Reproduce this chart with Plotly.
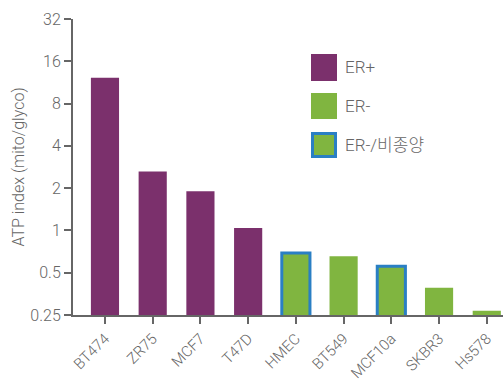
import plotly.graph_objects as go
import math

# Cell lines and their ATP index (mito/glyco)
cell_lines = ["BT474", "ZR75", "MCF7", "T47D", "HMEC", "BT549", "MCF10a", "SKBR3", "Hs578"]
atp_index = [12.2, 2.63, 1.9, 1.04, 0.69, 0.655, 0.555, 0.39, 0.268]
groups = ["ER+", "ER+", "ER+", "ER+", "ER-/비종양", "ER-", "ER-/비종양", "ER-", "ER-"]

y_tick_vals = [0.25, 0.5, 1, 2, 4, 8, 16, 32]
y_tick_text = ["0.25", "0.5", "1", "2", "4", "8", "16", "32"]

PURPLE = "#7B306C"
GREEN = "#80B540"
BLUE = "#2A7FC4"
TEXT = "#666666"
AXIS = "#666666"
FONT = "Roboto, Noto Sans CJK KR, sans-serif"
W_LIGHT = 300

fill = [PURPLE if g == "ER+" else GREEN for g in groups]
edge_color = [BLUE if g == "ER-/비종양" else "rgba(0,0,0,0)" for g in groups]
edge_width = [3 if g == "ER-/비종양" else 0 for g in groups]

fig = go.Figure(
    go.Bar(
        x=cell_lines,
        y=atp_index,
        marker=dict(color=fill, line=dict(color=edge_color, width=edge_width)),
        showlegend=False,
    )
)

# plot area in pixels (for placing the legend)
W, H = 503, 383
L, R, T, B = 73, 0, 19, 68
pw, ph = W - L - R, H - T - B


def px_x(x):
    return (x - L) / pw


def px_y(y):
    return (H - B - y) / ph


legend_items = [
    ("ER+", PURPLE, None, 54, 81),
    ("ER-", GREEN, None, 93, 119),
    ("ER-/비종양", GREEN, BLUE, 132, 158),
]
for label, color, border, y0, y1 in legend_items:
    fig.add_shape(
        type="rect", xref="paper", yref="paper",
        x0=px_x(311 if border is None else 312.5), x1=px_x(337 if border is None else 335.5),
        y0=px_y(y1 if border is None else y1 - 1.5), y1=px_y(y0 if border is None else y0 + 1.5),
        fillcolor=color,
        line=dict(color=border if border else color, width=3 if border else 0),
    )
    fig.add_annotation(
        xref="paper", yref="paper", x=px_x(343), y=px_y((y0 + y1) / 2),
        text=label, showarrow=False, xanchor="left", yanchor="middle",
        font=dict(family=FONT, size=17, color=TEXT, weight=W_LIGHT),
    )

fig.update_layout(
    width=W, height=H,
    margin=dict(l=L, r=R, t=T, b=B, pad=0),
    paper_bgcolor="white", plot_bgcolor="white",
    bargap=0.41,
    font=dict(family=FONT, size=16, color=TEXT, weight=W_LIGHT),
    xaxis=dict(
        range=[-0.67, 8.34], automargin=False,
        showline=True, linecolor=AXIS, linewidth=2,
        ticks="outside", ticklen=7, tickwidth=1.5, tickcolor=AXIS,
        tickangle=-45, showgrid=False, zeroline=False,
        tickfont=dict(family=FONT, size=15, color=TEXT, weight=W_LIGHT),
    ),
    yaxis=dict(
        type="log", automargin=False,
        range=[math.log10(0.25), math.log10(32)],
        tickvals=y_tick_vals, ticktext=y_tick_text,
        showline=True, linecolor=AXIS, linewidth=2,
        ticks="outside", ticklen=7, tickwidth=1.5, tickcolor=AXIS,
        showgrid=False, zeroline=False,
        tickfont=dict(family=FONT, size=16, color=TEXT, weight=W_LIGHT),
        title=dict(text="ATP index (mito/glyco)",
                   font=dict(family=FONT, size=16, color=TEXT, weight=W_LIGHT), standoff=2),
    ),
)

fig.write_html("out.html")
